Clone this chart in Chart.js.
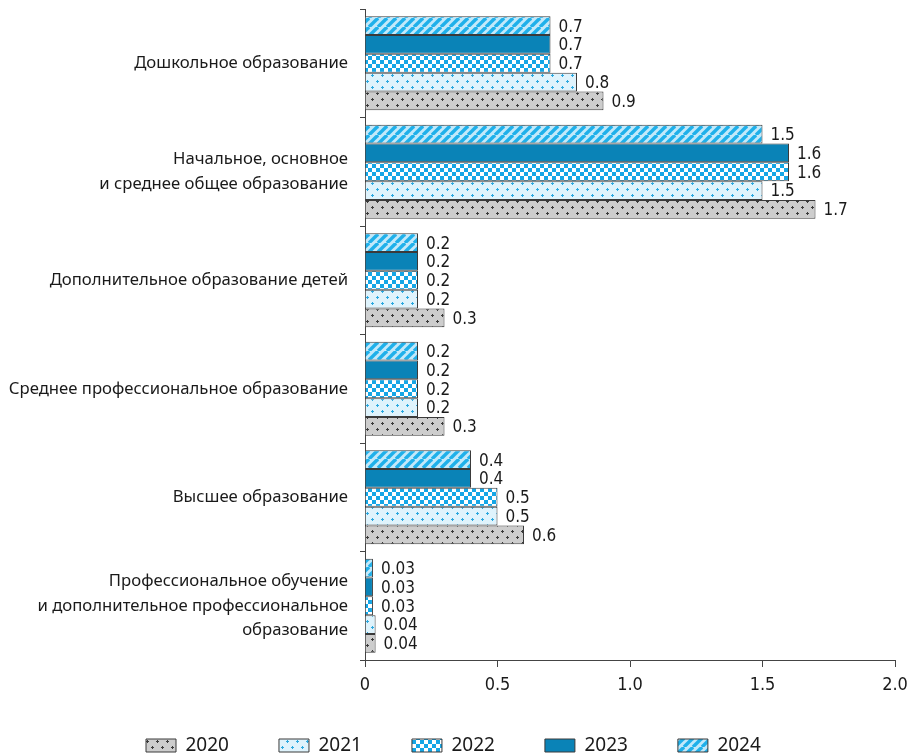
<!DOCTYPE html>
<html><head><meta charset="utf-8">
<script src="https://cdn.jsdelivr.net/npm/chart.js@4/dist/chart.umd.min.js"></script>
<style>html,body{margin:0;padding:0;background:#fff}#wrap{width:908px;height:755px;position:relative}</style>
</head><body><div id="wrap"><canvas id="c"></canvas></div>
<script>
const categories = [
  'Дошкольное образование',
  ['Начальное, основное', 'и среднее общее образование'],
  'Дополнительное образование детей',
  'Среднее профессиональное образование',
  'Высшее образование',
  ['Профессиональное обучение', 'и дополнительное профессиональное', 'образование']
];
const years = ['2020', '2021', '2022', '2023', '2024'];
const values2020 = [0.9, 1.7, 0.3, 0.3, 0.6, 0.04];
const values2021 = [0.8, 1.5, 0.2, 0.2, 0.5, 0.04];
const values2022 = [0.7, 1.6, 0.2, 0.2, 0.5, 0.03];
const values2023 = [0.7, 1.6, 0.2, 0.2, 0.4, 0.03];
const values2024 = [0.7, 1.5, 0.2, 0.2, 0.4, 0.03];
const xTickLabels = ['0', '0.5', '1.0', '1.5', '2.0'];

const NARROW = '"Liberation Sans Narrow", "Arial Narrow", "DejaVu Sans Condensed", sans-serif';
const REG = '"Noto Sans", "Open Sans", sans-serif';

function makePattern(w, h, draw) {
  const c = document.createElement('canvas');
  c.width = w; c.height = h;
  const g = c.getContext('2d');
  draw(g, w, h);
  return document.createElement('canvas').getContext('2d').createPattern(c, 'repeat');
}
function dots(bg, fg) {
  return makePattern(10, 12, (g) => {
    g.fillStyle = bg; g.fillRect(0, 0, 10, 12);
    g.fillStyle = fg;
    [[2, 3], [7, 9]].forEach(([x, y]) => {
      g.fillRect(x - 1, y, 3, 1); g.fillRect(x, y - 1, 1, 3);
    });
  });
}
const pat2020 = dots('#cdcdcd', '#3a3a3a');
const pat2021 = dots('#dff3fc', '#2ba8df');
const pat2022 = makePattern(8, 8, (g) => {
  g.fillStyle = '#ffffff'; g.fillRect(0, 0, 8, 8);
  g.fillStyle = '#15a6e6'; g.fillRect(0, 0, 4, 4); g.fillRect(4, 4, 4, 4);
});
const col2023 = '#0a83b7';
const pat2024 = makePattern(9, 9, (g) => {
  g.fillStyle = '#c3e9fa'; g.fillRect(0, 0, 9, 9);
  g.strokeStyle = '#1fb0ea'; g.lineWidth = 3.4;
  for (let k = -1; k <= 1; k++) {
    g.beginPath(); g.moveTo(k * 9, 9); g.lineTo(k * 9 + 9, 0); g.stroke();
  }
});

const BORDER = '#3a3a3a';
function ds(label, data, bg) {
  return { label, data, backgroundColor: bg, borderColor: BORDER, borderWidth: 1,
    categoryPercentage: 0.866, barPercentage: 1.0 };
}

const valueLabels = {
  id: 'valueLabels',
  afterDatasetsDraw(chart) {
    const ctx = chart.ctx;
    ctx.save();
    ctx.font = '17px ' + NARROW;
    ctx.fillStyle = '#1a1a1a';
    ctx.textAlign = 'left';
    ctx.textBaseline = 'middle';
    chart.data.datasets.forEach((d, i) => {
      const meta = chart.getDatasetMeta(i);
      meta.data.forEach((bar, j) => {
        ctx.fillText(String(d.data[j]), bar.x + 8, bar.y + 1.5);
      });
    });
    ctx.restore();
  }
};

const legendPlace = {
  id: 'legendPlace',
  afterLayout(chart) {
    const lg = chart.legend;
    if (!lg) return;
    const pad = lg.options.labels.padding;
    const fs = lg.options.labels.font.size;
    lg.left = 146 - pad; lg.right = 908;
    lg.top = 745.5 - pad - fs / 2; lg.bottom = 755;
  }
};

new Chart(document.getElementById('c'), {
  type: 'bar',
  data: {
    labels: categories,
    datasets: [
      ds(years[4], values2024, pat2024),
      ds(years[3], values2023, col2023),
      ds(years[2], values2022, pat2022),
      ds(years[1], values2021, pat2021),
      ds(years[0], values2020, pat2020)
    ]
  },
  options: {
    indexAxis: 'y',
    responsive: true,
    maintainAspectRatio: false,
    animation: false,
    layout: { padding: { top: 9, right: 13, bottom: 0, left: 0 } },
    scales: {
      x: {
        min: 0, max: 2,
        border: { color: '#444', width: 1 },
        grid: { drawOnChartArea: false, tickLength: 7, color: '#444' },
        ticks: {
          stepSize: 0.5, padding: 8, color: '#1a1a1a',
          font: { family: NARROW, size: 18 },
          callback: (v) => xTickLabels[Math.round(v / 0.5)]
        },
        afterFit(s) { s.height = 94; s.paddingLeft = 0; s.paddingRight = 0; }
      },
      y: {
        border: { color: '#444', width: 1 },
        grid: { drawOnChartArea: false, offset: true, tickLength: 5, color: '#444' },
        ticks: {
          padding: 12, color: '#1a1a1a',
          font: { family: REG, size: 16.7, lineHeight: 1.47 }
        },
        afterFit(s) { s.width = 365; s.paddingTop = 0; s.paddingBottom = 0; }
      }
    },
    plugins: {
      tooltip: { enabled: false },
      legend: {
        position: 'bottom',
        align: 'start',
        reverse: true,
        maxHeight: 1,
        labels: {
          boxWidth: 30, boxHeight: 13, padding: 50, color: '#1a1a1a',
          font: { family: REG, size: 19 }
        }
      }
    }
  },
  plugins: [valueLabels, legendPlace]
});
</script></body></html>
